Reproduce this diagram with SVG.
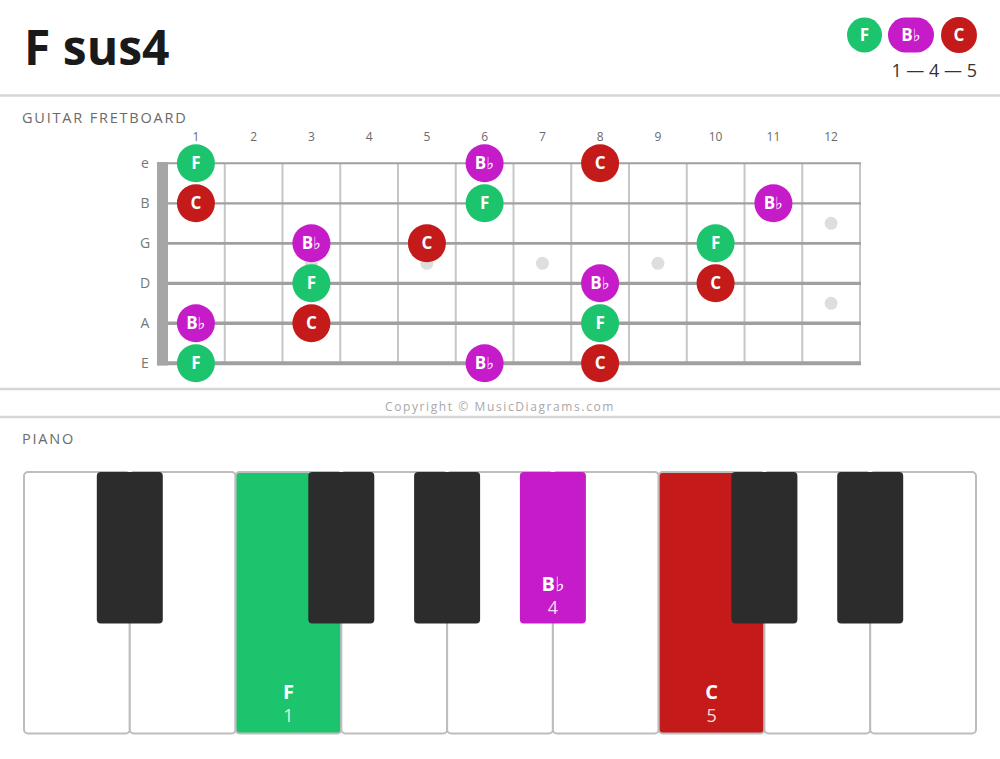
<svg xmlns="http://www.w3.org/2000/svg" width="1000" height="759" viewBox="0 0 1000 759">
<style>
text{font-family:"Open Sans","Noto Sans","DejaVu Sans",sans-serif}
.title{font-size:48px;font-weight:700;fill:#1a1a1a}
.sec{font-size:14.5px;letter-spacing:1.8px;fill:#6a6a6a}
.sep{stroke:#d6d6d6;stroke-width:2.5}
.fn{font-size:12px;fill:#6a6a6a;text-anchor:middle}
.sn{font-size:14px;fill:#777;text-anchor:middle}
.fret{stroke:#c6c6c6;stroke-width:2}
.str{stroke:#a0a0a0}
.dot{fill:#dedede}
.nl{font-size:17px;font-weight:700;fill:#fff;text-anchor:middle}
.g{fill:#1dc46e}.m{fill:#c61bc9}.r{fill:#c41a1a}
.wk{fill:#fff;stroke:#bdbdbd;stroke-width:2}
.wg{fill:#1dc46e;stroke:#bdbdbd;stroke-width:2}
.wr{fill:#c41a1a;stroke:#bdbdbd;stroke-width:2}
.bk{fill:#2c2c2c}
.kl{font-size:20px;font-weight:700;fill:#fff;text-anchor:middle}
.kn{font-size:18px;fill:#fff;fill-opacity:0.85;text-anchor:middle}
</style>

<g id="header">
<text class="title" x="24" y="65">F sus4</text>
<circle class="g" cx="864.5" cy="35" r="17.5"/>
<text class="nl" x="864.5" y="41">F</text>
<rect class="m" x="888" y="17.5" width="46" height="35" rx="17.5"/>
<text class="nl" x="911" y="41">B♭</text>
<circle class="r" cx="959" cy="35" r="18"/>
<text class="nl" x="959" y="41">C</text>
<text x="977" y="77" text-anchor="end" style="font-size:18px;fill:#333">1 — 4 — 5</text>
</g>

<line class="sep" x1="0" y1="95.5" x2="1000" y2="95.5"/>
<text class="sec" x="22" y="123">GUITAR FRETBOARD</text>

<g id="fretboard">
<g id="fret-numbers">
<text class="fn" x="196" y="141">1</text>
<text class="fn" x="253.6" y="141">2</text>
<text class="fn" x="311.4" y="141">3</text>
<text class="fn" x="369.1" y="141">4</text>
<text class="fn" x="426.9" y="141">5</text>
<text class="fn" x="484.6" y="141">6</text>
<text class="fn" x="542.4" y="141">7</text>
<text class="fn" x="600.1" y="141">8</text>
<text class="fn" x="657.9" y="141">9</text>
<text class="fn" x="715.6" y="141">10</text>
<text class="fn" x="773.4" y="141">11</text>
<text class="fn" x="831.1" y="141">12</text>
</g>
<g id="string-names">
<text class="sn" x="145" y="168">e</text>
<text class="sn" x="145" y="208">B</text>
<text class="sn" x="145" y="248">G</text>
<text class="sn" x="145" y="288">D</text>
<text class="sn" x="145" y="328">A</text>
<text class="sn" x="145" y="368">E</text>
</g>
<g id="inlays">
<circle class="dot" cx="311.4" cy="263.3" r="6.5"/>
<circle class="dot" cx="426.9" cy="263.3" r="6.5"/>
<circle class="dot" cx="542.4" cy="263.3" r="6.5"/>
<circle class="dot" cx="657.9" cy="263.3" r="6.5"/>
<circle class="dot" cx="831.1" cy="223.3" r="6.5"/>
<circle class="dot" cx="831.1" cy="303.3" r="6.5"/>
</g>
<g id="frets">
<line class="fret" x1="224.75" y1="163" x2="224.75" y2="363"/>
<line class="fret" x1="282.5" y1="163" x2="282.5" y2="363"/>
<line class="fret" x1="340.25" y1="163" x2="340.25" y2="363"/>
<line class="fret" x1="398" y1="163" x2="398" y2="363"/>
<line class="fret" x1="455.75" y1="163" x2="455.75" y2="363"/>
<line class="fret" x1="513.5" y1="163" x2="513.5" y2="363"/>
<line class="fret" x1="571.25" y1="163" x2="571.25" y2="363"/>
<line class="fret" x1="629" y1="163" x2="629" y2="363"/>
<line class="fret" x1="686.75" y1="163" x2="686.75" y2="363"/>
<line class="fret" x1="744.5" y1="163" x2="744.5" y2="363"/>
<line class="fret" x1="802.25" y1="163" x2="802.25" y2="363"/>
<line class="fret" x1="860" y1="163" x2="860" y2="363"/>
</g>
<g id="strings">
<line class="str" x1="157" y1="163.3" x2="861" y2="163.3" stroke-width="2"/>
<line class="str" x1="157" y1="203.3" x2="861" y2="203.3" stroke-width="2.3"/>
<line class="str" x1="157" y1="243.3" x2="861" y2="243.3" stroke-width="2.7"/>
<line class="str" x1="157" y1="283.3" x2="861" y2="283.3" stroke-width="3.2"/>
<line class="str" x1="157" y1="323.3" x2="861" y2="323.3" stroke-width="3.6"/>
<line class="str" x1="157" y1="363.3" x2="861" y2="363.3" stroke-width="4"/>
</g>
<rect id="nut" x="157" y="162" width="11" height="203.5" fill="#a6a6a6"/>
<g id="notes">
<g id="n-e1"><circle class="g" cx="195.9" cy="163.3" r="19"/><text class="nl" x="195.9" y="169.3">F</text></g>
<g id="n-e6"><circle class="m" cx="484.6" cy="163.3" r="19"/><text class="nl" x="484.6" y="169.3">B♭</text></g>
<g id="n-e8"><circle class="r" cx="600.1" cy="163.3" r="19"/><text class="nl" x="600.1" y="169.3">C</text></g>
<g id="n-B1"><circle class="r" cx="195.9" cy="203.3" r="19"/><text class="nl" x="195.9" y="209.3">C</text></g>
<g id="n-B6"><circle class="g" cx="484.6" cy="203.3" r="19"/><text class="nl" x="484.6" y="209.3">F</text></g>
<g id="n-B11"><circle class="m" cx="773.4" cy="203.3" r="19"/><text class="nl" x="773.4" y="209.3">B♭</text></g>
<g id="n-G3"><circle class="m" cx="311.4" cy="243.3" r="19"/><text class="nl" x="311.4" y="249.3">B♭</text></g>
<g id="n-G5"><circle class="r" cx="426.9" cy="243.3" r="19"/><text class="nl" x="426.9" y="249.3">C</text></g>
<g id="n-G10"><circle class="g" cx="715.6" cy="243.3" r="19"/><text class="nl" x="715.6" y="249.3">F</text></g>
<g id="n-D3"><circle class="g" cx="311.4" cy="283.3" r="19"/><text class="nl" x="311.4" y="289.3">F</text></g>
<g id="n-D8"><circle class="m" cx="600.1" cy="283.3" r="19"/><text class="nl" x="600.1" y="289.3">B♭</text></g>
<g id="n-D10"><circle class="r" cx="715.6" cy="283.3" r="19"/><text class="nl" x="715.6" y="289.3">C</text></g>
<g id="n-A1"><circle class="m" cx="195.9" cy="323.3" r="19"/><text class="nl" x="195.9" y="329.3">B♭</text></g>
<g id="n-A3"><circle class="r" cx="311.4" cy="323.3" r="19"/><text class="nl" x="311.4" y="329.3">C</text></g>
<g id="n-A8"><circle class="g" cx="600.1" cy="323.3" r="19"/><text class="nl" x="600.1" y="329.3">F</text></g>
<g id="n-E1"><circle class="g" cx="195.9" cy="363.3" r="19"/><text class="nl" x="195.9" y="369.3">F</text></g>
<g id="n-E6"><circle class="m" cx="484.6" cy="363.3" r="19"/><text class="nl" x="484.6" y="369.3">B♭</text></g>
<g id="n-E8"><circle class="r" cx="600.1" cy="363.3" r="19"/><text class="nl" x="600.1" y="369.3">C</text></g>
</g>
</g>

<line class="sep" x1="0" y1="389" x2="1000" y2="389"/>
<text x="500" y="410.5" text-anchor="middle" style="font-size:12px;letter-spacing:1.6px;fill:#a8a8a8">Copyright © MusicDiagrams.com</text>
<line class="sep" x1="0" y1="417" x2="1000" y2="417"/>
<text class="sec" x="22" y="444">PIANO</text>

<g id="piano">
<rect class="wk" x="24" y="472" width="105.78" height="261.5" rx="4"/>
<rect class="wk" x="129.78" y="472" width="105.78" height="261.5" rx="4"/>
<rect class="wg" x="235.56" y="472" width="105.78" height="261.5" rx="4"/>
<rect class="wk" x="341.33" y="472" width="105.78" height="261.5" rx="4"/>
<rect class="wk" x="447.11" y="472" width="105.78" height="261.5" rx="4"/>
<rect class="wk" x="552.89" y="472" width="105.78" height="261.5" rx="4"/>
<rect class="wr" x="658.67" y="472" width="105.78" height="261.5" rx="4"/>
<rect class="wk" x="764.44" y="472" width="105.78" height="261.5" rx="4"/>
<rect class="wk" x="870.22" y="472" width="105.78" height="261.5" rx="4"/>
<rect class="bk" x="96.8" y="472" width="66" height="151.5" rx="4"/>
<rect class="bk" x="308.3" y="472" width="66" height="151.5" rx="4"/>
<rect class="bk" x="414.1" y="472" width="66" height="151.5" rx="4"/>
<rect class="m" x="519.9" y="472" width="66" height="151.5" rx="4"/>
<rect class="bk" x="731.4" y="472" width="66" height="151.5" rx="4"/>
<rect class="bk" x="837.2" y="472" width="66" height="151.5" rx="4"/>
<text class="kl" x="288.4" y="699">F</text>
<text class="kn" x="288.4" y="722">1</text>
<text class="kl" x="552.9" y="591">B♭</text>
<text class="kn" x="552.9" y="614">4</text>
<text class="kl" x="711.6" y="699">C</text>
<text class="kn" x="711.6" y="722">5</text>
</g>
</svg>
